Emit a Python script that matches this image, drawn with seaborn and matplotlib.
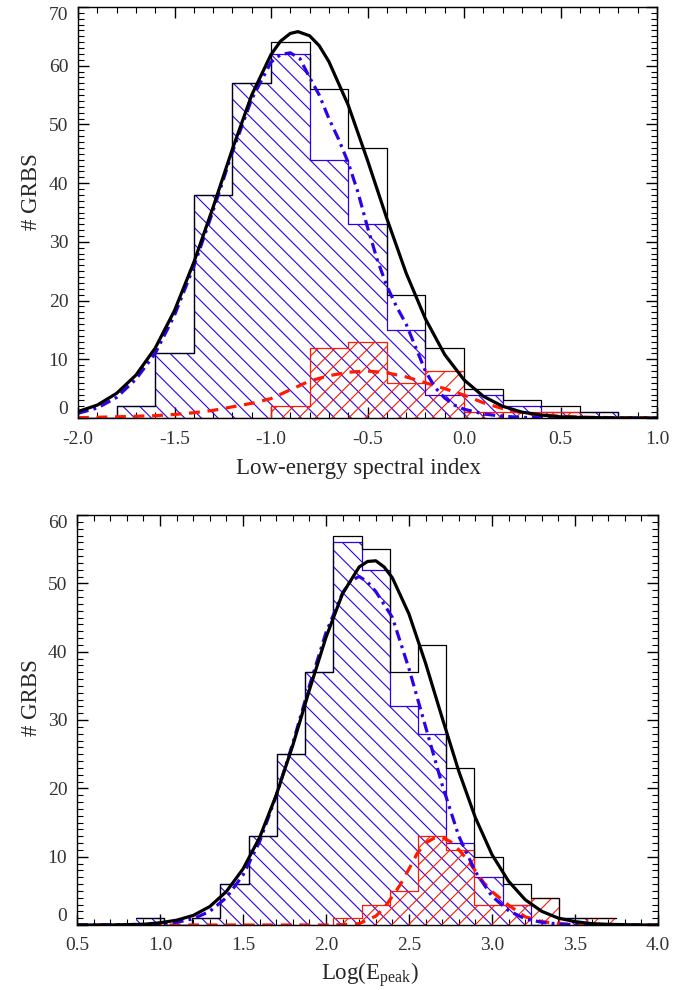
import numpy as np
import matplotlib
matplotlib.use("Agg")
import matplotlib.pyplot as plt
from matplotlib.ticker import MultipleLocator, FixedLocator, FixedFormatter
import seaborn as sns

# ---------------- top panel: low-energy spectral index ----------------
alpha_edges = [-2.0, -1.8, -1.6, -1.4, -1.2, -1.0, -0.8, -0.6, -0.4, -0.2,
               0.0, 0.2, 0.4, 0.6, 0.8, 1.0]
alpha_all = [0, 2, 11, 38, 57, 64, 56, 46, 21, 12, 5, 3, 2, 1, 0]
alpha_blue = [0, 2, 11, 38, 57, 62, 44, 33, 15, 4, 4, 2, 1, 1, 0]
alpha_red = [0, 0, 0, 0, 0, 2, 12, 13, 6, 8, 1, 1, 1, 0, 0]

alpha_fit_all_x = [-2.0, -1.9, -1.8, -1.7, -1.6, -1.5, -1.4, -1.3, -1.2, -1.1, -1.0,
                   -0.95, -0.9, -0.86, -0.8, -0.75, -0.7, -0.6, -0.5, -0.4, -0.3,
                   -0.2, -0.1, 0.0, 0.1, 0.2, 0.3, 0.4, 0.5, 0.6, 0.7, 0.8, 0.9, 1.0]
alpha_fit_all_y = [1.1, 2.2, 4.2, 7.3, 11.9, 18.3, 26.5, 35.9, 45.8, 55.0, 61.9,
                   64.2, 65.5, 65.8, 65.1, 63.4, 60.7, 53.3, 43.9, 34.0, 24.7,
                   16.9, 10.8, 6.5, 3.7, 2.0, 1.0, 0.5, 0.2, 0.1, 0.05, 0.0, 0.0, 0.0]

alpha_fit_blue_x = [-2.0, -1.9, -1.8, -1.7, -1.6, -1.5, -1.4, -1.3, -1.2, -1.1, -1.0,
                    -0.95, -0.9, -0.85, -0.8, -0.75, -0.7, -0.65, -0.6, -0.55, -0.5,
                    -0.45, -0.4, -0.35, -0.3, -0.25, -0.2, -0.15, -0.1, -0.05, 0.0,
                    0.1, 0.2, 0.3, 0.4, 0.6, 0.8, 1.0]
alpha_fit_blue_y = [0.8, 1.7, 3.5, 6.6, 11.0, 17.5, 25.8, 35.3, 45.3, 54.3, 60.6,
                    61.9, 62.2, 61.2, 58.0, 55.0, 51.0, 47.5, 43.5, 38.5, 32.5,
                    27.0, 22.5, 19.0, 16.0, 12.0, 8.0, 5.2, 3.4, 2.2, 1.5,
                    0.7, 0.3, 0.1, 0.05, 0.0, 0.0, 0.0]

alpha_fit_red_x = [-2.0, -1.8, -1.6, -1.5, -1.4, -1.3, -1.2, -1.1, -1.0, -0.9, -0.8,
                   -0.7, -0.6, -0.5, -0.4, -0.3, -0.2, -0.1, 0.0, 0.1, 0.2, 0.3,
                   0.4, 0.5, 0.6, 0.8, 1.0]
alpha_fit_red_y = [0.05, 0.2, 0.4, 0.6, 0.9, 1.3, 1.9, 2.5, 3.3, 4.8, 6.3,
                   7.2, 7.8, 8.0, 7.7, 7.0, 6.0, 5.0, 3.9, 2.6, 1.6, 0.9,
                   0.5, 0.3, 0.15, 0.05, 0.0]

alpha_ticks = [-2.0, -1.5, -1.0, -0.5, 0.0, 0.5, 1.0]
alpha_ticklabels = ['-2.0', '-1.5', '-1.0', '-0.5', '0.0', '0.5', '1.0']
alpha_yticks = [0, 10, 20, 30, 40, 50, 60, 70]

# ---------------- bottom panel: log(Epeak) ----------------
epeak_edges = [0.854, 1.024, 1.194, 1.364, 1.534, 1.704, 1.874, 2.044, 2.214,
               2.384, 2.554, 2.724, 2.894, 3.064, 3.234, 3.404, 3.574, 3.744]
epeak_all = [1, 0, 1, 6, 13, 25, 37, 57, 55, 37, 41, 23, 10, 6, 4, 1, 1]
epeak_blue = [1, 0, 1, 6, 13, 25, 37, 56, 52, 32, 28, 12, 7, 3, 0, 1, 0]
epeak_red = [0, 0, 0, 0, 0, 0, 0, 1, 3, 5, 13, 11, 3, 3, 4, 0, 1]

epeak_fit_all_x = [0.5, 0.6, 0.7, 0.8, 0.9, 1.0, 1.1, 1.2, 1.3, 1.4, 1.5, 1.6, 1.7,
                   1.8, 1.9, 2.0, 2.1, 2.2, 2.25, 2.3, 2.35, 2.4, 2.5, 2.6, 2.7,
                   2.8, 2.9, 3.0, 3.1, 3.2, 3.3, 3.4, 3.5, 3.6, 3.7, 3.8, 3.9, 4.0]
epeak_fit_all_y = [0.0, 0.0, 0.0, 0.05, 0.1, 0.33, 0.7, 1.4, 2.7, 4.9, 8.2, 12.8, 19.0,
                   26.3, 34.4, 42.1, 48.5, 52.4, 53.2, 53.3, 52.4, 50.8, 45.5, 38.3, 30.3,
                   22.5, 15.7, 10.3, 6.4, 3.7, 2.0, 1.0, 0.5, 0.2, 0.1, 0.05, 0.0, 0.0]

epeak_fit_blue_x = [0.5, 0.8, 0.9, 1.0, 1.1, 1.2, 1.3, 1.4, 1.5, 1.6, 1.7, 1.8, 1.9,
                    2.0, 2.1, 2.15, 2.2, 2.25, 2.3, 2.4, 2.5, 2.6, 2.7, 2.8, 2.9,
                    3.0, 3.1, 3.2, 3.3, 3.4, 3.5, 3.7, 4.0]
epeak_fit_blue_y = [0.0, 0.05, 0.1, 0.2, 0.4, 0.9, 2.0, 4.0, 7.3, 12.2, 18.9, 26.6, 35.0,
                    42.8, 48.6, 50.4, 51.0, 50.2, 48.8, 45.0, 37.5, 29.0, 20.5, 13.0, 7.8,
                    4.2, 2.1, 0.9, 0.4, 0.15, 0.05, 0.0, 0.0]

epeak_fit_red_x = [0.5, 1.0, 1.5, 2.0, 2.1, 2.2, 2.3, 2.35, 2.4, 2.45, 2.5, 2.55, 2.6,
                   2.65, 2.7, 2.75, 2.8, 2.85, 2.9, 2.95, 3.0, 3.1, 3.2, 3.3, 3.4,
                   3.5, 3.6, 4.0]
epeak_fit_red_y = [0.0, 0.0, 0.0, 0.0, 0.05, 0.2, 1.3, 2.5, 4.2, 6.0, 8.2, 10.5, 12.0,
                   12.7, 12.8, 12.2, 11.0, 9.6, 7.9, 6.2, 4.9, 2.9, 1.2, 0.5, 0.2,
                   0.05, 0.0, 0.0]

epeak_ticks = [0.5, 1.0, 1.5, 2.0, 2.5, 3.0, 3.5, 4.0]
epeak_ticklabels = ['0.5', '1.0', '1.5', '2.0', '2.5', '3.0', '3.5', '4.0']
epeak_yticks = [0, 10, 20, 30, 40, 50, 60]

BLUE = '#3000e8'
RED = '#ff1a00'
TICK_GREY = '#333333'

sns.set_style("ticks")
plt.rcParams['font.family'] = ['Liberation Serif', 'DejaVu Serif']
plt.rcParams['mathtext.fontset'] = 'custom'
plt.rcParams['mathtext.rm'] = 'Liberation Serif'
plt.rcParams['hatch.linewidth'] = 0.8


def draw_hist(ax, edges, counts, color, hatch=None, lw=0.9):
    centers = 0.5 * (np.array(edges[:-1]) + np.array(edges[1:]))
    if hatch is not None:
        sns.histplot(x=centers, weights=counts, bins=edges, element="step",
                     fill=True, color=color, facecolor="none", edgecolor=color,
                     hatch=hatch, linewidth=0, ax=ax)
    sns.histplot(x=centers, weights=counts, bins=edges, element="step",
                 fill=False, color=color, linewidth=lw, ax=ax)


def draw_fits(ax, ax_x, ax_y, bx, by, rx, ry):
    sns.lineplot(x=rx, y=ry, color=RED, linewidth=2.3,
                 linestyle=(0, (3.4, 2.4)), ax=ax)
    sns.lineplot(x=bx, y=by, color=BLUE, linewidth=2.3,
                 linestyle=(0, (3.4, 1.6, 0.9, 1.6)), ax=ax)
    sns.lineplot(x=ax_x, y=ax_y, color='black', linewidth=2.3, ax=ax)


def style_axis(ax, xlim, ylim, xticks, xticklabels, yticks):
    ax.set_xlim(*xlim)
    ax.set_ylim(*ylim)
    ax.xaxis.set_major_locator(FixedLocator(xticks))
    ax.xaxis.set_major_formatter(FixedFormatter(xticklabels))
    ax.xaxis.set_minor_locator(MultipleLocator(0.1))
    ax.yaxis.set_major_locator(FixedLocator(yticks))
    ax.yaxis.set_minor_locator(MultipleLocator(1))
    ax.tick_params(which='both', direction='in', top=True, right=True,
                   color='black', labelsize=14, labelcolor=TICK_GREY)
    ax.tick_params(which='major', length=8, width=1.0, pad=7)
    ax.tick_params(axis='x', which='major', pad=9)
    ax.tick_params(which='minor', length=4, width=0.8)
    for s in ax.spines.values():
        s.set_linewidth(1.0)
        s.set_color('black')
        s.set_visible(True)
    yt = ax.yaxis.get_major_ticks()
    yt[0].label1.set_va('bottom')
    yt[-1].label1.set_va('top')


fig = plt.figure(figsize=(6.74, 9.9), dpi=100)
ax1 = fig.add_axes([78 / 674, 1 - 418 / 990, 579 / 674, 411 / 990])
ax2 = fig.add_axes([77 / 674, 1 - 925 / 990, 581 / 674, 410 / 990])

# top panel
draw_hist(ax1, alpha_edges, alpha_blue, BLUE, hatch='\\\\')
draw_hist(ax1, alpha_edges, alpha_red, RED, hatch='//')
draw_hist(ax1, alpha_edges, alpha_all, 'black')
draw_fits(ax1, alpha_fit_all_x, alpha_fit_all_y, alpha_fit_blue_x, alpha_fit_blue_y,
          alpha_fit_red_x, alpha_fit_red_y)
style_axis(ax1, (-2.0, 1.0), (0, 70), alpha_ticks, alpha_ticklabels, alpha_yticks)
ax1.set_xlabel('Low-energy spectral index', fontsize=16.5)
ax1.set_ylabel('# GRBS', fontsize=16.5)
ax1.xaxis.set_label_coords(0.484, -0.097)
ax1.yaxis.set_label_coords(-0.062, 0.55)

# bottom panel
draw_hist(ax2, epeak_edges, epeak_blue, BLUE, hatch='\\\\')
draw_hist(ax2, epeak_edges, epeak_red, RED, hatch='//')
draw_hist(ax2, epeak_edges, epeak_all, 'black')
draw_fits(ax2, epeak_fit_all_x, epeak_fit_all_y, epeak_fit_blue_x, epeak_fit_blue_y,
          epeak_fit_red_x, epeak_fit_red_y)
style_axis(ax2, (0.5, 4.0), (0, 60), epeak_ticks, epeak_ticklabels, epeak_yticks)
ax2.set_xlabel(r'$\mathrm{Log(E_{peak})}$', fontsize=16.5)
ax2.set_ylabel('# GRBS', fontsize=16.5)
ax2.xaxis.set_label_coords(0.504, -0.087)
ax2.yaxis.set_label_coords(-0.06, 0.555)

fig.savefig('out.png', dpi=100)
